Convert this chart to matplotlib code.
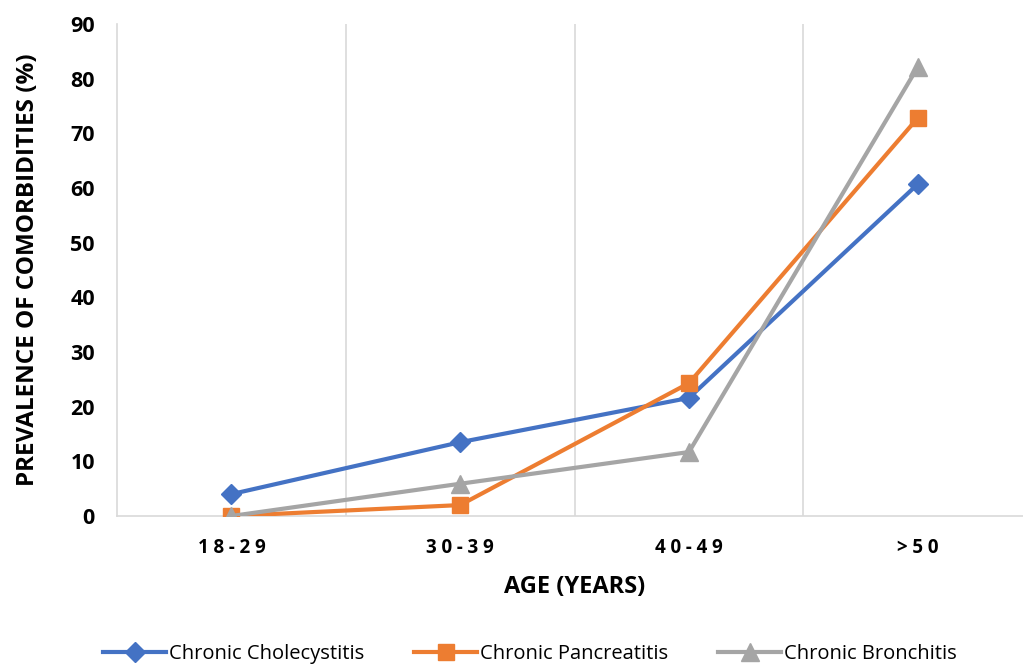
import matplotlib
matplotlib.use("Agg")
import matplotlib.pyplot as plt

# data
age_groups = ['18-29', '30-39', '40-49', '>50']
cholecystitis = [4.0, 13.5, 21.6, 60.7]
pancreatitis = [0.0, 2.0, 24.3, 72.8]
bronchitis = [0.0, 5.9, 11.7, 82.1]
y_ticks = [0, 10, 20, 30, 40, 50, 60, 70, 80, 90]

plt.rcParams['font.family'] = ['Open Sans', 'DejaVu Sans']

fig = plt.figure(figsize=(10.23, 6.64), dpi=100)
ax = fig.add_axes([0.1144, 0.2229, 0.8945, 0.741])

x = list(range(len(age_groups)))
ax.plot(x, cholecystitis, color='#4472C4', lw=3, marker='D', ms=10.5,
        label='Chronic Cholecystitis', zorder=3)
ax.plot(x, pancreatitis, color='#ED7D31', lw=3, marker='s', ms=11.5,
        label='Chronic Pancreatitis', zorder=3)
ax.plot(x, bronchitis, color='#A5A5A5', lw=3, marker='^', ms=13.5,
        label='Chronic Bronchitis', zorder=3)

ax.set_xlim(-0.5, 3.5)
ax.set_ylim(0, 90)
ax.set_yticks(y_ticks)
ax.set_xticks(x)
# the category labels are letter-spaced in the original
ax.set_xticklabels(['\u2005'.join(a) for a in age_groups])

# vertical gridlines sit between categories, as in Excel
ax.set_xticks([0.5, 1.5, 2.5], minor=True)
ax.grid(True, which='minor', axis='x', color='#D9D9D9', lw=1.2)
ax.tick_params(which='both', length=0)
ax.tick_params(axis='y', pad=16)
ax.tick_params(axis='x', pad=16)

for lab in ax.get_yticklabels():
    lab.set_fontsize(15.5)
    lab.set_fontweight('bold')
for lab in ax.get_xticklabels():
    lab.set_fontsize(13.5)
    lab.set_fontweight('bold')

for side in ['top', 'right']:
    ax.spines[side].set_visible(False)
ax.spines['left'].set_color('#D9D9D9')
ax.spines['bottom'].set_color('#D9D9D9')
ax.spines['left'].set_linewidth(1.2)
ax.spines['bottom'].set_linewidth(1.2)

ax.set_ylabel('PREVALENCE OF COMORBIDITIES (%)', fontsize=17.5, fontweight='bold', labelpad=22)
ax.set_xlabel('AGE (YEARS)', fontsize=17, fontweight='bold', labelpad=12)

fig.legend(loc='lower center', bbox_to_anchor=(0.518, -0.028), ncol=3, frameon=False,
           fontsize=14.5, handlelength=3.1, handletextpad=0.15, columnspacing=2.5)

fig.savefig('out.png', dpi=100)
